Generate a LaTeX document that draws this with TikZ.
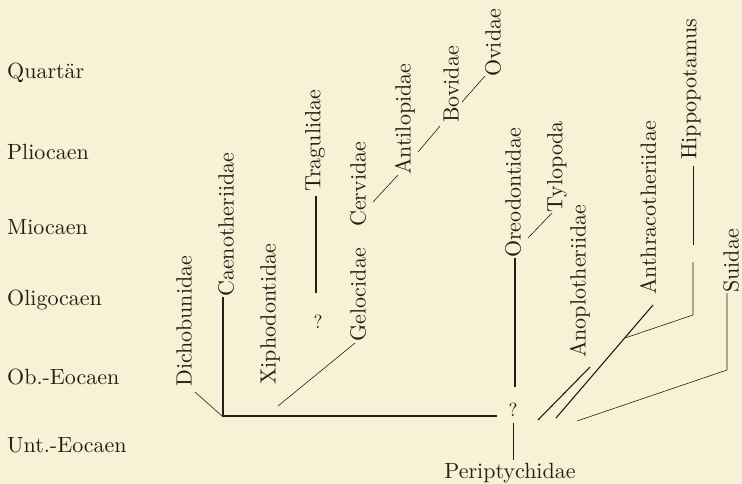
\documentclass[tikz,border=0pt]{standalone}
\usepackage{tikz}
\usepackage{graphicx}
\definecolor{paper}{RGB}{249,241,214}
\definecolor{ink}{RGB}{36,30,24}
\newcommand\lbl[1]{\scalebox{2.2}{\fontsize{10}{12}\selectfont #1}}
\newcommand\qm{\scalebox{1.9}{\fontsize{10}{12}\selectfont ?}}
\begin{document}
\begin{tikzpicture}[x=1pt,y=-1pt,
  vlbl/.style={rotate=90,anchor=west,inner sep=0pt,text=ink},
  era/.style={anchor=west,inner sep=0pt,text=ink},
  qmark/.style={inner sep=0pt,text=ink},
  branch/.style={draw=ink,line width=1.1pt},
  thin/.style={draw=ink,line width=0.6pt}]
\fill[paper] (0,0) rectangle (742,484);
\useasboundingbox (0,0) rectangle (742,484);
% era labels
\node[era] (quar) at (7,73) {\lbl{Quartär}};
\node[era] (plio) at (7,152) {\lbl{Pliocaen}};
\node[era] (mioc) at (7,227) {\lbl{Miocaen}};
\node[era] (olig) at (7,300) {\lbl{Oligocaen}};
\node[era] (obeo) at (7,377) {\lbl{Ob.-Eocaen}};
\node[era] (unte) at (7,445) {\lbl{Unt.-Eocaen}};
% taxa
\node[vlbl] (dich) at (184,387) {\lbl{Dichobunidae}};
\node[vlbl] (caen) at (226,297) {\lbl{Caenotheriidae}};
\node[vlbl] (xiph) at (270,385) {\lbl{Xiphodontidae}};
\node[vlbl] (trag) at (315,192) {\lbl{Tragulidae}};
\node[vlbl] (gelo) at (358,342) {\lbl{Gelocidae}};
\node[vlbl] (cerv) at (358,227) {\lbl{Cervidae}};
\node[vlbl] (anti) at (405,175) {\lbl{Antilopidae}};
\node[vlbl] (bovi) at (451,123) {\lbl{Bovidae}};
\node[vlbl] (ovid) at (493,77) {\lbl{Ovidae}};
\node[vlbl] (oreo) at (513,258) {\lbl{Oreodontidae}};
\node[vlbl] (tylo) at (557,213) {\lbl{Tylopoda}};
\node[vlbl] (anop) at (580,358) {\lbl{Anoplotheriidae}};
\node[vlbl] (anth) at (648,295) {\lbl{Anthracotheriidae}};
\node[vlbl] (hipp) at (691,160) {\lbl{Hippopotamus}};
\node[vlbl] (suid) at (731,293) {\lbl{Suidae}};
\node[qmark] (q1) at (318,322) {\qm};
\node[qmark] (q2) at (513,410) {\qm};
\node[inner sep=0pt,text=ink] (peri) at (510,473) {\lbl{Periptychidae}};
% junction coordinates
\coordinate (dichS) at (195,392);
\coordinate (mainL) at (222,416);
\coordinate (mainR) at (497,416);
\coordinate (caenB) at (223,416);
\coordinate (caenT) at (223,297);
\coordinate (xiphS) at (278,406);
\coordinate (geloE) at (355,343);
\coordinate (tragB) at (316,293);
\coordinate (tragT) at (316,196);
\coordinate (cervE) at (373,202);
\coordinate (antiS) at (398,175);
\coordinate (antiE) at (418,152);
\coordinate (boviS) at (440,126);
\coordinate (boviE) at (462,102);
\coordinate (ovidS) at (485,76);
\coordinate (oreoB) at (515,387);
\coordinate (oreoT) at (515,258);
\coordinate (periT) at (513,423);
\coordinate (periB) at (513,460);
\coordinate (oreoE) at (528,238);
\coordinate (tyloS) at (552,213);
\coordinate (anopB) at (538,420);
\coordinate (anopT) at (590,367);
\coordinate (anthB) at (556,418);
\coordinate (anthT) at (653,305);
\coordinate (hippJ) at (625,338);
\coordinate (hippK) at (693,315);
\coordinate (hippG1) at (693,262);
\coordinate (hippG2) at (693,245);
\coordinate (hippT) at (693,166);
\coordinate (suidB) at (577,421);
\coordinate (suidK) at (727,370);
\coordinate (suidT) at (727,293);
% connectors
\draw[thin] (dichS) -- (mainL);
\draw[branch] (mainL) -- (mainR);
\draw[branch] (caenB) -- (caenT);
\draw[thin] (xiphS) -- (geloE);
\draw[branch] (tragB) -- (tragT);
\draw[thin] (cervE) -- (antiS);
\draw[thin] (antiE) -- (boviS);
\draw[thin] (boviE) -- (ovidS);
\draw[branch] (oreoB) -- (oreoT);
\draw[thin] (periT) -- (periB);
\draw[thin] (oreoE) -- (tyloS);
\draw[branch] (anopB) -- (anopT);
\draw[branch] (anthB) -- (anthT);
\draw[thin] (hippJ) -- (hippK) -- (hippG1);
\draw[thin] (hippG2) -- (hippT);
\draw[thin] (suidB) -- (suidK) -- (suidT);
\end{tikzpicture}
\end{document}
